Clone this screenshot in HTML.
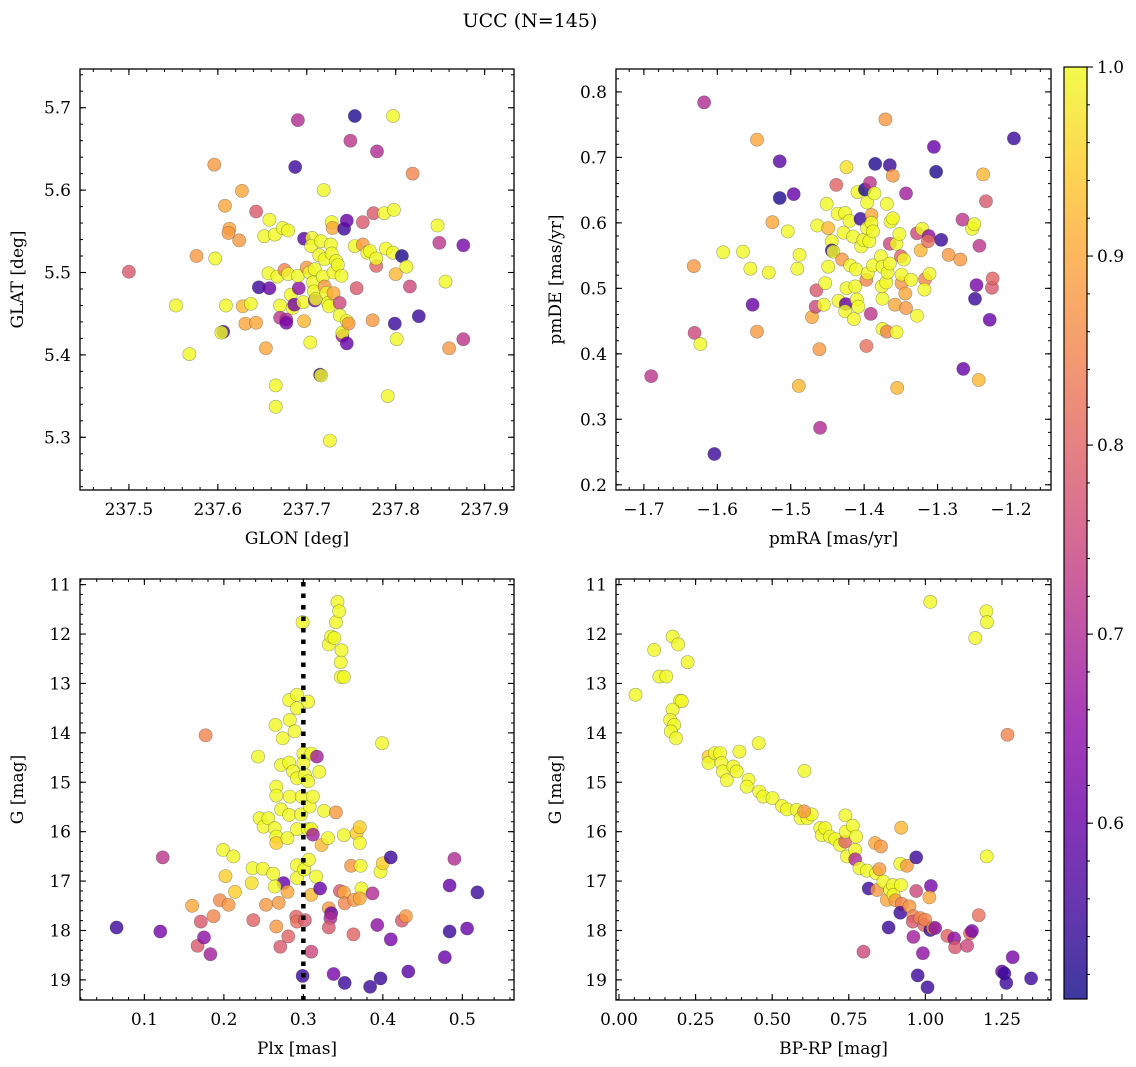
<!DOCTYPE html>
<html><head><meta charset="utf-8"><title>UCC (N=145)</title>
<style>
html,body{margin:0;padding:0;background:#fff;}
svg{display:block;font-family:"DejaVu Serif","Liberation Serif",serif;}
</style></head>
<body>
<svg id="fig" width="1136" height="1067" viewBox="0 0 1136 1067" xmlns="http://www.w3.org/2000/svg">
<defs>
<linearGradient id="plasmaGrad" x1="0" y1="1" x2="0" y2="0">
<stop offset="0" stop-color="#0d0887"/><stop offset="0.1" stop-color="#41049d"/><stop offset="0.2" stop-color="#6a00a8"/><stop offset="0.3" stop-color="#8f0da4"/><stop offset="0.4" stop-color="#b12a90"/><stop offset="0.5" stop-color="#cc4778"/><stop offset="0.6" stop-color="#e16462"/><stop offset="0.7" stop-color="#f2844b"/><stop offset="0.8" stop-color="#fca636"/><stop offset="0.9" stop-color="#fcce25"/><stop offset="1" stop-color="#f0f921"/>
</linearGradient>
</defs>
<text x="530" y="27" font-size="19" text-anchor="middle">UCC (N=145)</text>
</svg>
<script>
// ---- Panel 1: GLON vs GLAT ----
const glon=[237.5,237.553,237.568,237.576,237.596,237.597,237.608,237.613,237.612,237.609,
237.606,237.604,237.624,237.627,237.628,237.631,237.637,237.643,237.643,237.646,
237.652,237.654,237.658,237.658,237.657,237.664,237.665,237.665,237.667,237.67,
237.67,237.673,237.675,237.677,237.677,237.679,237.679,237.682,237.684,237.687,
237.686,237.69,237.691,237.69,237.697,237.697,237.696,237.7,237.703,237.704,
237.706,237.705,237.707,237.708,237.709,237.709,237.71,237.714,237.715,237.716,
237.716,237.718,237.719,237.72,237.72,237.722,237.724,237.726,237.725,237.727,
237.728,237.729,237.728,237.73,237.73,237.733,237.735,237.737,237.739,237.737,
237.74,237.74,237.742,237.745,237.745,237.745,237.747,237.749,237.754,237.754,
237.756,237.763,237.763,237.768,237.771,237.774,237.775,237.778,237.778,237.779,
237.787,237.789,237.791,237.797,237.797,237.798,237.799,237.8,237.801,237.807,
237.812,237.816,237.819,237.826,237.847,237.849,237.856,237.86,237.876,237.876];
const glat=[5.501,5.46,5.401,5.52,5.631,5.517,5.581,5.553,5.548,5.46,
5.428,5.427,5.539,5.599,5.459,5.438,5.462,5.439,5.574,5.482,
5.544,5.408,5.481,5.564,5.499,5.546,5.363,5.337,5.495,5.46,
5.445,5.554,5.503,5.443,5.439,5.551,5.498,5.473,5.457,5.628,
5.461,5.685,5.481,5.496,5.541,5.441,5.464,5.506,5.5,5.415,
5.542,5.532,5.488,5.477,5.466,5.504,5.468,5.521,5.376,5.375,
5.538,5.495,5.6,5.516,5.483,5.475,5.463,5.296,5.459,5.534,
5.561,5.554,5.523,5.5,5.475,5.514,5.509,5.463,5.496,5.448,
5.423,5.427,5.553,5.563,5.414,5.441,5.438,5.66,5.69,5.532,
5.481,5.561,5.534,5.524,5.526,5.442,5.572,5.508,5.517,5.647,
5.572,5.529,5.35,5.69,5.524,5.576,5.438,5.498,5.419,5.52,
5.507,5.483,5.62,5.447,5.557,5.536,5.489,5.408,5.533,5.419];
const prob1=[0.78,1.0,1.0,0.88,0.88,1.0,0.9,0.9,0.88,1.0,
0.55,1.0,0.88,0.9,0.92,0.9,1.0,0.9,0.78,0.55,
1.0,0.9,0.6,1.0,1.0,1.0,1.0,1.0,1.0,1.0,
0.72,1.0,0.85,0.7,0.62,1.0,1.0,1.0,1.0,0.55,
0.62,0.7,0.65,1.0,0.58,0.92,1.0,0.88,1.0,1.0,
1.0,1.0,1.0,1.0,0.62,1.0,1.0,1.0,0.55,1.0,
1.0,1.0,1.0,1.0,0.88,1.0,1.0,1.0,1.0,1.0,
1.0,0.9,1.0,1.0,0.9,1.0,1.0,0.75,1.0,1.0,
0.68,1.0,0.55,0.6,0.6,1.0,0.88,0.72,0.52,1.0,
0.78,0.78,0.88,1.0,1.0,0.88,0.78,0.8,1.0,0.7,
1.0,1.0,1.0,1.0,1.0,1.0,0.55,0.92,1.0,0.52,
1.0,0.75,0.85,0.55,1.0,0.72,1.0,0.88,0.62,0.72];
const glonTicks=["237.5","237.6","237.7","237.8","237.9"];
const glatTicks=["5.3","5.4","5.5","5.6","5.7"];

// ---- Panel 2: pmRA vs pmDE ----
const pmra=[-1.69,-1.618,-1.632,-1.631,-1.623,-1.604,-1.592,-1.565,-1.555,-1.552,
-1.546,-1.546,-1.53,-1.525,-1.515,-1.515,-1.504,-1.496,-1.491,-1.488,
-1.489,-1.471,-1.465,-1.466,-1.464,-1.461,-1.46,-1.455,-1.453,-1.451,
-1.449,-1.449,-1.444,-1.444,-1.442,-1.438,-1.436,-1.435,-1.43,-1.428,
-1.426,-1.425,-1.424,-1.424,-1.426,-1.42,-1.419,-1.415,-1.414,-1.412,
-1.41,-1.411,-1.409,-1.408,-1.405,-1.404,-1.401,-1.399,-1.397,-1.397,
-1.396,-1.396,-1.395,-1.393,-1.392,-1.391,-1.39,-1.39,-1.388,-1.388,
-1.386,-1.385,-1.377,-1.376,-1.375,-1.375,-1.375,-1.371,-1.37,-1.369,
-1.369,-1.368,-1.365,-1.365,-1.365,-1.361,-1.364,-1.361,-1.358,-1.356,
-1.356,-1.355,-1.352,-1.35,-1.349,-1.349,-1.346,-1.344,-1.343,-1.343,
-1.336,-1.328,-1.328,-1.323,-1.321,-1.317,-1.318,-1.312,-1.313,-1.311,
-1.302,-1.305,-1.295,-1.285,-1.269,-1.266,-1.265,-1.253,-1.25,-1.249,
-1.247,-1.244,-1.243,-1.238,-1.234,-1.229,-1.226,-1.225,-1.196];
const pmde=[0.366,0.784,0.534,0.432,0.415,0.247,0.555,0.556,0.53,0.475,
0.727,0.434,0.524,0.601,0.694,0.638,0.587,0.644,0.53,0.551,
0.351,0.456,0.497,0.472,0.596,0.407,0.287,0.475,0.508,0.629,
0.533,0.592,0.572,0.558,0.556,0.658,0.614,0.481,0.544,0.585,
0.615,0.476,0.685,0.5,0.465,0.603,0.535,0.579,0.453,0.503,
0.483,0.529,0.647,0.472,0.606,0.564,0.574,0.651,0.513,0.412,
0.592,0.631,0.523,0.572,0.661,0.461,0.612,0.6,0.587,0.535,
0.645,0.69,0.549,0.503,0.484,0.438,0.533,0.758,0.509,0.629,
0.434,0.524,0.688,0.538,0.568,0.672,0.602,0.607,0.475,0.568,
0.433,0.348,0.583,0.549,0.508,0.521,0.544,0.492,0.47,0.645,
0.513,0.458,0.584,0.558,0.591,0.514,0.498,0.58,0.572,0.522,
0.678,0.716,0.574,0.551,0.544,0.605,0.377,0.591,0.598,0.484,
0.505,0.36,0.565,0.674,0.633,0.452,0.501,0.515,0.729];
const prob2=[0.72,0.7,0.88,0.75,1.0,0.55,1.0,1.0,1.0,0.6,
0.9,0.88,1.0,0.9,0.58,0.52,1.0,0.6,1.0,1.0,
0.92,0.9,0.78,0.75,1.0,0.88,0.7,1.0,1.0,1.0,
1.0,0.92,1.0,0.55,1.0,0.8,1.0,1.0,0.88,1.0,
1.0,0.6,0.97,1.0,1.0,1.0,1.0,1.0,1.0,1.0,
1.0,1.0,1.0,1.0,0.55,1.0,1.0,0.52,0.85,0.82,
1.0,1.0,1.0,1.0,0.72,0.72,0.9,1.0,1.0,1.0,
1.0,0.52,1.0,1.0,1.0,1.0,1.0,0.88,1.0,1.0,
0.85,1.0,0.55,1.0,0.75,0.88,1.0,1.0,0.9,1.0,
1.0,0.92,1.0,0.8,0.88,1.0,1.0,0.9,0.88,0.68,
1.0,1.0,0.75,0.92,1.0,0.85,1.0,0.65,0.82,1.0,
0.52,0.6,0.55,0.88,0.88,0.72,0.6,1.0,1.0,0.55,
0.62,0.92,0.72,0.92,0.78,0.6,0.78,0.8,0.55];
const pmraTicks=["-1.7","-1.6","-1.5","-1.4","-1.3","-1.2"];
const pmdeTicks=["0.2","0.3","0.4","0.5","0.6","0.7","0.8"];

// ---- Panel 3: Plx vs G ----
const plx=[0.065,0.12,0.123,0.16,0.171,0.167,0.175,0.183,0.177,0.187,
0.195,0.199,0.202,0.206,0.212,0.214,0.235,0.237,0.236,0.243,
0.245,0.249,0.25,0.253,0.256,0.262,0.265,0.266,0.266,0.264,
0.266,0.266,0.266,0.269,0.271,0.272,0.272,0.274,0.275,0.264,
0.281,0.28,0.28,0.282,0.282,0.283,0.282,0.283,0.287,0.289,
0.292,0.292,0.292,0.291,0.292,0.292,0.292,0.292,0.298,0.297,
0.299,0.3,0.3,0.302,0.302,0.299,0.301,0.306,0.306,0.306,
0.307,0.308,0.31,0.312,0.31,0.31,0.317,0.31,0.312,0.316,
0.32,0.321,0.323,0.326,0.331,0.332,0.335,0.334,0.332,0.332,
0.335,0.339,0.338,0.341,0.341,0.343,0.345,0.346,0.347,0.348,
0.347,0.351,0.351,0.351,0.352,0.352,0.363,0.36,0.364,0.367,
0.371,0.371,0.372,0.373,0.371,0.384,0.387,0.393,0.397,0.399,
0.397,0.4,0.41,0.41,0.424,0.429,0.432,0.478,0.484,0.484,
0.49,0.506,0.519];
const gPlx=[17.94,18.02,16.52,17.5,17.82,18.31,18.14,18.48,14.05,17.71,
17.39,16.37,16.9,17.48,16.5,17.22,17.04,17.79,16.74,14.48,
15.73,16.75,15.9,17.48,15.73,16.85,13.84,15.09,15.27,15.93,
16.1,16.23,17.92,17.44,18.33,14.65,15.55,14.11,17.04,17.11,
18.12,17.22,16.13,13.34,14.6,15.29,15.66,13.74,14.78,13.97,
13.23,13.5,14.92,17.72,17.82,15.95,16.68,16.94,15.29,15.65,
11.76,14.42,14.61,14.85,17.79,18.92,16.77,14.98,13.37,15.95,
16.57,15.49,14.42,15.29,17.28,18.43,14.48,15.95,16.06,16.91,
14.79,17.15,16.27,15.58,16.13,17.55,17.65,17.75,17.94,12.21,
12.05,12.08,18.88,11.76,15.61,11.35,11.54,17.2,12.57,12.33,
12.87,12.87,16.07,17.23,17.45,19.06,18.08,16.69,17.38,16.03,
15.91,16.23,16.69,17.15,17.35,19.14,17.25,17.89,18.97,14.21,
16.81,16.64,16.52,18.18,17.8,17.71,18.83,18.54,17.09,18.02,
16.55,17.96,17.23];
const prob3=[0.55,0.62,0.72,0.9,0.78,0.78,0.65,0.68,0.85,0.85,
0.86,1.0,0.95,0.88,1.0,0.95,0.97,0.8,1.0,1.0,
1.0,1.0,1.0,0.88,1.0,1.0,1.0,1.0,1.0,1.0,
1.0,0.95,0.88,0.88,0.78,1.0,1.0,1.0,0.6,1.0,
0.8,0.9,1.0,1.0,1.0,1.0,1.0,1.0,1.0,1.0,
1.0,1.0,1.0,0.8,0.82,1.0,1.0,1.0,1.0,1.0,
1.0,1.0,1.0,1.0,0.78,0.55,1.0,1.0,1.0,1.0,
1.0,1.0,1.0,1.0,0.92,0.75,0.68,1.0,0.68,1.0,
1.0,0.6,0.92,1.0,1.0,0.88,0.6,0.7,0.78,1.0,
1.0,1.0,0.62,1.0,0.88,1.0,1.0,0.78,1.0,1.0,
1.0,1.0,1.0,0.9,0.85,0.55,0.8,0.88,0.88,0.95,
0.95,1.0,1.0,1.0,0.9,0.55,0.7,0.65,0.55,1.0,
1.0,0.95,0.55,0.62,0.78,0.88,0.58,0.6,0.6,0.55,
0.7,0.6,0.55];
const plxTicks=["0.1","0.2","0.3","0.4","0.5"];
const plxRef=[0.3];
const gTicks=["11","12","13","14","15","16","17","18","19"];

// ---- Panel 4: BP-RP vs G ----
const bprp=[0.054,0.115,0.132,0.154,0.175,0.193,0.224,0.199,0.205,0.175,
0.167,0.18,0.169,0.186,0.292,0.292,0.313,0.33,0.335,0.339,
0.352,0.373,0.384,0.393,0.423,0.417,0.456,0.458,0.471,0.501,
0.532,0.548,0.58,0.593,0.605,0.615,0.629,0.604,0.657,0.662,
0.673,0.689,0.706,0.722,0.738,0.739,0.74,0.763,0.774,0.744,
0.771,0.771,0.785,0.809,0.836,0.855,0.839,0.85,0.815,0.842,
0.863,0.874,0.885,0.894,0.896,0.92,0.918,0.94,0.921,0.902,
0.923,0.918,0.948,0.88,0.961,0.959,0.97,0.961,0.97,0.983,
0.996,1.016,0.999,1.018,1.013,1.025,1.032,0.975,0.992,1.007,
0.798,1.072,1.094,1.097,1.136,1.146,1.152,1.174,1.2,1.016,
1.199,1.201,1.163,1.268,1.25,1.258,1.264,1.285,1.345];
const gCmd=[13.23,12.32,12.86,12.86,12.05,12.21,12.57,13.35,13.36,13.53,
13.74,13.84,13.97,14.11,14.48,14.61,14.41,14.41,14.61,14.78,
14.96,14.68,14.78,14.38,14.95,15.09,14.21,15.19,15.29,15.32,
15.48,15.55,15.56,15.73,14.77,15.73,15.65,15.59,15.93,16.07,
15.93,16.1,16.15,16.27,16.2,15.67,16.0,15.88,16.1,16.5,
16.37,16.56,16.74,16.79,16.23,16.3,16.84,16.76,17.15,17.18,
17.01,17.38,17.18,17.08,17.28,17.08,16.65,16.69,15.92,17.39,
17.46,17.64,17.51,17.94,17.71,17.82,16.52,18.13,17.2,17.75,
17.89,17.99,17.78,17.1,17.33,17.95,17.95,18.91,18.46,19.15,
18.43,18.11,18.16,18.34,18.31,18.06,18.01,17.69,16.5,11.35,
11.54,11.76,12.08,14.04,18.83,18.87,19.06,18.54,18.97];
const prob4=[1.0,1.0,1.0,1.0,1.0,1.0,1.0,1.0,1.0,1.0,
1.0,1.0,1.0,1.0,0.95,1.0,1.0,1.0,1.0,1.0,
1.0,1.0,1.0,1.0,1.0,1.0,1.0,1.0,1.0,1.0,
1.0,1.0,1.0,1.0,1.0,1.0,1.0,0.88,1.0,1.0,
1.0,1.0,1.0,1.0,0.8,1.0,1.0,1.0,1.0,1.0,
1.0,0.7,1.0,1.0,0.9,0.88,1.0,0.88,0.55,0.88,
1.0,0.9,1.0,1.0,1.0,1.0,1.0,0.88,0.92,0.88,
0.85,0.55,0.88,0.55,0.85,0.78,0.55,0.68,0.75,0.85,
0.8,0.55,0.85,0.62,0.9,0.88,0.65,0.55,0.65,0.55,
0.75,0.8,0.65,0.78,0.75,0.8,0.62,0.82,1.0,1.0,
1.0,1.0,1.0,0.85,0.6,0.55,0.55,0.62,0.55];
const bprpTicks=["0.00","0.25","0.50","0.75","1.00","1.25"];

// ---- Colorbar ----
const cbTicks=["0.6","0.7","0.8","0.9","1.0"];
const cbMin=0.507, cbMax=1.0;

const NS="http://www.w3.org/2000/svg";
const svg=document.getElementById('fig');
const plasma=["#0d0887","#41049d","#6a00a8","#8f0da4","#b12a90","#cc4778","#e16462","#f2844b","#fca636","#fcce25","#f0f921"];
function hex(h){return [parseInt(h.substr(1,2),16),parseInt(h.substr(3,2),16),parseInt(h.substr(5,2),16)];}
function cmap(v){let t=(v-cbMin)/(cbMax-cbMin);t=Math.max(0,Math.min(1,t));const f=t*10;const i=Math.min(9,Math.floor(f));const r=f-i;const a=hex(plasma[i]),b=hex(plasma[i+1]);return 'rgb('+a.map((c,k)=>Math.round(c+(b[k]-c)*r)).join(',')+')';}
function el(tag,attrs,parent){const e=document.createElementNS(NS,tag);for(const k in attrs)e.setAttribute(k,attrs[k]);(parent||svg).appendChild(e);return e;}

function panel(o){
  const g=el('g',{});
  
  
  const sx=v=>o.x0+(v-o.xmin)/(o.xmax-o.xmin)*(o.x1-o.x0);
  const sy=o.invert? (v=>o.y0+(v-o.ymin)/(o.ymax-o.ymin)*(o.y1-o.y0)) : (v=>o.y1-(v-o.ymin)/(o.ymax-o.ymin)*(o.y1-o.y0));
  const pg=el('g',{},g);
  
  
  const n=Math.min(o.xs.length,o.ys.length,o.cs.length);
  for(let i=0;i<n;i++){
    const c=el('circle',{cx:sx(o.xs[i]).toFixed(1),cy:sy(o.ys[i]).toFixed(1),r:6.6,fill:cmap(o.cs[i]),'fill-opacity':0.8,stroke:'rgba(60,60,60,0.45)','stroke-width':0.6},pg);
    
    
  }
  if(o.vline){o.vline.forEach(v=>{
    const l=el('line',{x1:sx(v),x2:sx(v),y1:o.y0+3,y2:o.y1,stroke:'#000','stroke-width':4.5,'stroke-dasharray':'4.5 7'},g);
    
    
  });}
  const fr=el('rect',{x:o.x0,y:o.y0,width:o.x1-o.x0,height:o.y1-o.y0,fill:'none',stroke:'#000','stroke-width':1.3},g);
  
  
  const xt=el('g',{},g);
  
  
  const eps=1e-9;
  let mstart=Math.ceil((o.xmin)/o.xminor-eps)*o.xminor;
  for(let v=mstart;v<=o.xmax+eps;v+=o.xminor){const X=sx(v);el('line',{x1:X,x2:X,y1:o.y1,y2:o.y1-3,stroke:'#000','stroke-width':1},xt);el('line',{x1:X,x2:X,y1:o.y0,y2:o.y0+3,stroke:'#000','stroke-width':1},xt);}
  o.xticks.forEach(s=>{const v=parseFloat(s);const X=sx(v);
    el('line',{x1:X,x2:X,y1:o.y1,y2:o.y1-6,stroke:'#000','stroke-width':1.1},xt);
    el('line',{x1:X,x2:X,y1:o.y0,y2:o.y0+6,stroke:'#000','stroke-width':1.1},xt);
    const t=el('text',{x:X,y:o.y1+25,'font-size':17,'text-anchor':'middle'},xt);t.textContent=s.replace('-','\u2212');
    
    
  });
  mstart=Math.ceil((o.ymin)/o.yminor-eps)*o.yminor;
  const yt=el('g',{},g);
  
  
  for(let v=mstart;v<=o.ymax+eps;v+=o.yminor){const Y=sy(v);el('line',{x1:o.x0,x2:o.x0+3,y1:Y,y2:Y,stroke:'#000','stroke-width':1},yt);el('line',{x1:o.x1,x2:o.x1-3,y1:Y,y2:Y,stroke:'#000','stroke-width':1},yt);}
  o.yticks.forEach(s=>{const v=parseFloat(s);const Y=sy(v);
    el('line',{x1:o.x0,x2:o.x0+6,y1:Y,y2:Y,stroke:'#000','stroke-width':1.1},yt);
    el('line',{x1:o.x1,x2:o.x1-6,y1:Y,y2:Y,stroke:'#000','stroke-width':1.1},yt);
    const t=el('text',{x:o.x0-9,y:Y+6,'font-size':17,'text-anchor':'end'},yt);t.textContent=s;
    
    
  });
  const xl=el('text',{x:(o.x0+o.x1)/2,y:o.y1+54,'font-size':17,'text-anchor':'middle'},g);xl.textContent=o.xlabel;
  
  
  const yc=(o.y0+o.y1)/2;
  const yl=el('text',{x:o.ylx,y:yc,'font-size':17,'text-anchor':'middle',transform:'rotate(-90 '+o.ylx+' '+yc+')'},g);yl.textContent=o.ylabel;
  
  
}

panel({name:'glon-glat-panel',x0:80,x1:514,y0:69,y1:490,xmin:237.445,xmax:237.933,ymin:5.236,ymax:5.747,xminor:0.02,yminor:0.02,
  xs:glon,ys:glat,cs:prob1,xticks:glonTicks,yticks:glatTicks,xlabel:'GLON [deg]',ylabel:'GLAT [deg]',ylx:23});
panel({name:'proper-motion-panel',x0:616,x1:1051,y0:69,y1:490,xmin:-1.738,xmax:-1.1455,ymin:0.192,ymax:0.835,xminor:0.02,yminor:0.02,
  xs:pmra,ys:pmde,cs:prob2,xticks:pmraTicks,yticks:pmdeTicks,xlabel:'pmRA [mas/yr]',ylabel:'pmDE [mas/yr]',ylx:561});
panel({name:'parallax-magnitude-panel',x0:80,x1:514,y0:579,y1:1000,xmin:0.019,xmax:0.565,ymin:10.886,ymax:19.407,invert:true,xminor:0.02,yminor:0.2,
  xs:plx,ys:gPlx,cs:prob3,vline:plxRef,xticks:plxTicks,yticks:gTicks,xlabel:'Plx [mas]',ylabel:'G [mag]',ylx:23});
panel({name:'color-magnitude-panel',x0:616,x1:1051,y0:579,y1:1000,xmin:-0.0098,xmax:1.41,ymin:10.886,ymax:19.407,invert:true,xminor:0.05,yminor:0.2,
  xs:bprp,ys:gCmd,cs:prob4,xticks:bprpTicks,yticks:gTicks,xlabel:'BP-RP [mag]',ylabel:'G [mag]',ylx:561});

(function(){
  const x0=1064,x1=1087,y0=67,y1=999;
  const g=el('g',{});
  
  
  el('rect',{x:x0,y:y0,width:x1-x0,height:y1-y0,fill:'url(#plasmaGrad)','fill-opacity':0.8},g);
  el('rect',{x:x0,y:y0,width:x1-x0,height:y1-y0,fill:'none',stroke:'#000','stroke-width':1.2},g);
  const sy=v=>y1-(v-cbMin)/(cbMax-cbMin)*(y1-y0);
  for(let v=0.52;v<=1.0001;v+=0.02){const Y=sy(v);el('line',{x1:x1,x2:x1+3,y1:Y,y2:Y,stroke:'#000','stroke-width':1},g);}
  cbTicks.forEach(s=>{const Y=sy(parseFloat(s));
    el('line',{x1:x1,x2:x1+6,y1:Y,y2:Y,stroke:'#000','stroke-width':1.1},g);
    const t=el('text',{x:x1+10,y:Y+6,'font-size':17},g);t.textContent=s;
    
    
  });
})();
</script>
</body></html>
